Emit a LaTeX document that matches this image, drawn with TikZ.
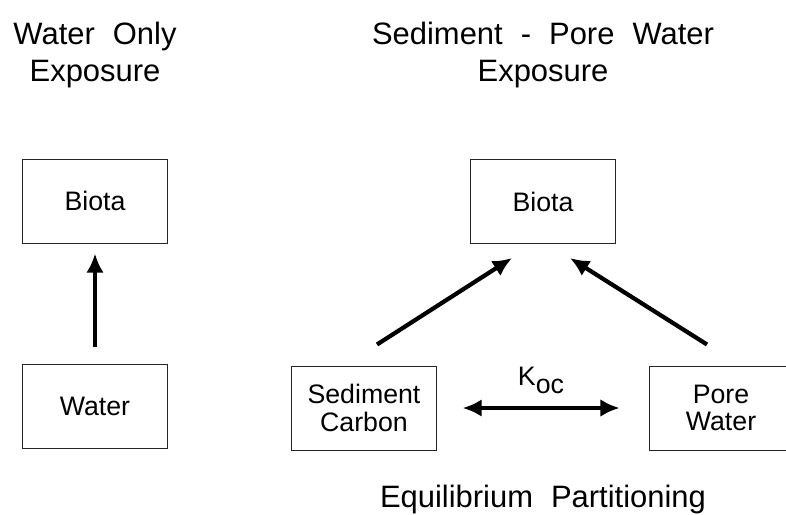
\documentclass[tikz,border=0pt]{standalone}
\usepackage{fontspec}
\setmainfont{Liberation Sans}
\newfontfamily\widesans[WordSpace=2.1]{Liberation Sans}
\usetikzlibrary{arrows.meta,calc}

\begin{document}
\begin{tikzpicture}[
    x=0.025cm,y=-0.025cm,
    box/.style={draw=black!85,line width=0.7pt,minimum width=3.6cm,minimum height=2.1cm,inner sep=0pt,align=center,font=\fontsize{19}{19.5}\selectfont},
    title/.style={align=center,inner sep=0pt,font=\widesans\fontsize{22}{27}\selectfont},
    arr/.style={-{Latex[length=0.48cm,width=0.44cm]},line width=3pt},
    darr/.style={{Latex[length=0.48cm,width=0.44cm]}-{Latex[length=0.48cm,width=0.44cm]},line width=3pt}
  ]
    \useasboundingbox (0,0) rectangle (786,514);
    \clip (0,0) rectangle (786,514);

    \node[title] (ttlA) at (95,55) {Water Only\\Exposure};
    \node[box] (biotaA) at (95,201) {Biota};
    \node[box] (water) at (95,406) {Water};
    \draw[arr,shorten <=0.42cm,shorten >=0.25cm] (water) -- (biotaA);

    \node[title] (ttlB) at (543,55) {Sediment - Pore Water\\Exposure};
    \node[box] (biotaB) at (543,201.5) {Biota};
    \node[box] (sed) at (364,408) {Sediment\\Carbon};
    \node[box] (pore) at (721,408) {Pore\\Water};
    \node[inner sep=0pt,font=\fontsize{19}{19.5}\selectfont] (koc) at (541,380) {K\raisebox{-0.3em}{oc}};
    \node[title,anchor=base] (eqp) at (543,507) {Equilibrium Partitioning};

    \coordinate (sedtail) at ($(sed.north)+(13,-21)$);
    \coordinate (biotaL) at ($(biotaB.south)+(-31,14)$);
    \coordinate (poretail) at ($(pore.north)+(-14,-21)$);
    \coordinate (biotaR) at ($(biotaB.south)+(27,14)$);
    \draw[arr] (sedtail) -- (biotaL);
    \draw[arr] (poretail) -- (biotaR);
    \draw[darr,shorten <=0.65cm,shorten >=0.72cm] (sed) -- (pore);
  \end{tikzpicture}
\end{document}
